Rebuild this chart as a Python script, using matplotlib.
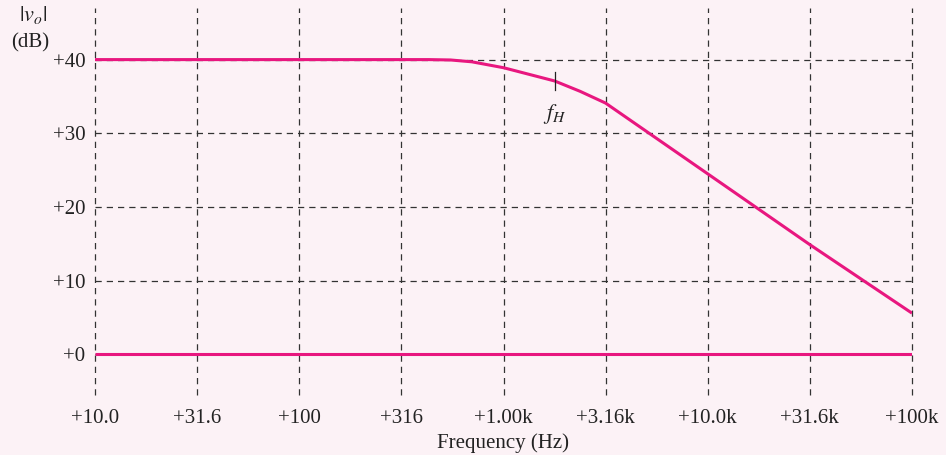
"""
Bode magnitude plot: |vo| (dB) vs frequency, low-pass with f_H marker
"""
import matplotlib.pyplot as plt
import numpy as np

# data
FREQ_HZ   = [10, 31.6, 100, 316, 430, 550, 700, 1000, 1780, 2370, 3160, 10000, 31600, 100000]
GAIN_DB   = [40, 40, 40, 40, 40, 39.95, 39.7, 38.9, 37.1, 35.7, 34.1, 24.5, 14.9, 5.6]
ZERO_DB   = [0] * len(FREQ_HZ)
F_H       = 1786
F_H_GAIN  = [38.3, 35.85]

X_TICKS   = [10, 31.6, 100, 316, 1000, 3160, 10000, 31600, 100000]
X_LABELS  = ['+10.0', '+31.6', '+100', '+316', '+1.00k', '+3.16k', '+10.0k', '+31.6k', '+100k']
Y_TICKS   = [0, 10, 20, 30, 40]
Y_LABELS  = ['+0', '+10', '+20', '+30', '+40']

# figure variables
BG_COLOR   = '#fcf2f6'
LINE_COLOR = '#e8177f'
GRID_COLOR = '#333333'
PLOT_DPI   = 100

plt.rcParams['font.family'] = ['Liberation Serif', 'DejaVu Serif']
plt.rcParams['mathtext.fontset'] = 'stix'

fig = plt.figure(figsize=(9.46, 4.55), dpi=PLOT_DPI, facecolor=BG_COLOR)
ax = fig.add_axes([95 / 946, 60 / 455, (912 - 95) / 946, (447 - 60) / 455])
ax.set_facecolor(BG_COLOR)

# curves
ax.semilogx(FREQ_HZ, GAIN_DB, color=LINE_COLOR, linewidth=2.2, solid_capstyle='butt', zorder=3)
ax.semilogx(FREQ_HZ, ZERO_DB, color=LINE_COLOR, linewidth=2.2, solid_capstyle='butt', zorder=3)

# f_H marker
ax.plot([F_H, F_H], F_H_GAIN, color='#222222', linewidth=0.9, zorder=4)
ax.text(F_H, 32.6, '$f_H$', ha='center', va='center', fontsize=16, color='#222222')

# axes setting
ax.set_xlim(10, 100000)
ax.set_ylim(-5.5, 47.0)
ax.set_xticks(X_TICKS)
ax.set_xticklabels(X_LABELS)
ax.set_yticks(Y_TICKS)
ax.set_yticklabels(Y_LABELS)
ax.minorticks_off()
ax.tick_params(axis='both', length=0, labelsize=15, colors='#222222')
ax.tick_params(axis='x', pad=10)
ax.tick_params(axis='y', pad=7)
for sp in ax.spines.values():
    sp.set_visible(False)
ax.grid(True, color=GRID_COLOR, linestyle=(0, (5, 4)), linewidth=0.9)
ax.set_axisbelow(True)
for gl in ax.get_xgridlines() + ax.get_ygridlines():
    gl.set_clip_on(False)

# labels
fig.text(33 / 946, 1 - 15 / 455, '$|v_o|$', ha='center', va='center', fontsize=16, color='#222222')
fig.text(30 / 946, 1 - 43 / 455, '(dB)', ha='center', va='center', fontsize=15, color='#222222')
fig.text(503 / 946, 1 - 443 / 455, 'Frequency (Hz)', ha='center', va='center', fontsize=15, color='#222222')

plt.savefig('out.png', dpi=PLOT_DPI, facecolor=BG_COLOR)
plt.close(fig)
